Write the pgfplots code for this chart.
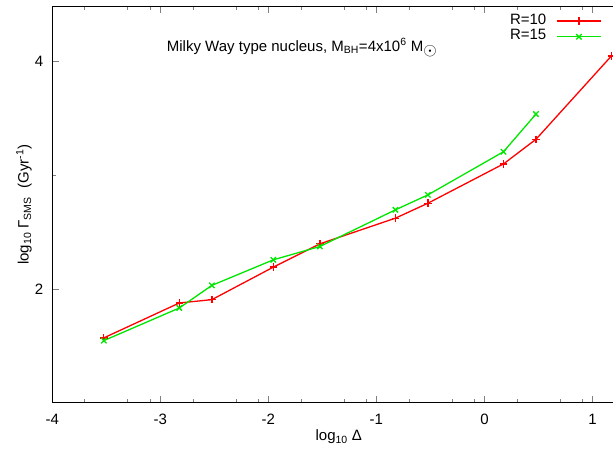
\documentclass[border=0pt]{standalone}
\usepackage{fontspec}
\setmainfont{Liberation Sans}
\usepackage{pgfplots}
\pgfplotsset{compat=1.18}
\definecolor{gpred}{RGB}{255,0,0}
\definecolor{gpgreen}{RGB}{0,230,0}

\begin{document}
\fontsize{15}{18}\selectfont
\begin{tikzpicture}
\begin{axis}[
    scale only axis,
    width=560.7pt, height=396pt,
    xmin=-4, xmax=1.19,
    ymin=1.01, ymax=4.48,
    axis x line=box, axis y line=left,
    axis line style={-, line width=0.9pt},
    tick align=inside,
    tick style={line width=0.7pt},
    major tick length=6.7pt, minor tick length=3.5pt,
    xtick={-4,-3,-2,-1,0,1},
    xticklabels={-4,-3,-2,-1,0,1},
    minor xtick={-3.699,-3.301,-3.097,-2.699,-2.301,-2.097,-1.699,-1.301,-1.097,-0.699,-0.301,-0.097,0.301,0.699,0.903},
    ytick={2,4}, yticklabels={2,4},
    minor ytick={3},
    xticklabel pos=lower,
    xticklabel style={yshift=-6pt},
    yticklabel style={xshift=-4pt},
    xlabel={log\textsubscript{10} Δ},
    xlabel style={at={(rel axis cs:0.511,-0.0866)}, anchor=center},
    ylabel={log\textsubscript{10} Γ\textsubscript{SMS}\ \ (Gyr\textsuperscript{-1})},
    ylabel style={at={(rel axis cs:-0.0505,0.5)}, anchor=center, rotate=0},
    legend style={at={(rel axis cs:0.98,0.984)}, anchor=north east, draw=none, fill=none,
        legend cell align=right, inner sep=0pt, row sep=0pt, column sep=10pt,
        nodes={inner sep=0pt, text height=11pt, text depth=4.7pt}},
    legend plot pos=right,
    legend image code/.code={
        \draw[#1, mark=none] (0pt,0pt) -- (44pt,0pt);
        \path[#1] plot coordinates {(22pt,0pt)};},
]
\coordinate (bl) at (rel axis cs:0,0);
\coordinate (tr) at (rel axis cs:1,1);

\addplot[color=gpred, line width=1.3pt, mark=+, mark size=3.8pt, mark options={solid, color=gpred, line width=1.3pt}] coordinates {
    (-3.523, 1.578) (-2.824, 1.884) (-2.523, 1.913) (-1.954, 2.198) (-1.523, 2.402)
    (-0.824, 2.627) (-0.523, 2.758) (0.176, 3.102) (0.477, 3.318) (1.176, 4.049)
};
\addlegendentry{R=10}

\addplot[color=gpgreen, line width=1.3pt, mark=x, mark size=3.8pt, mark options={solid, color=gpgreen, line width=1.3pt}] coordinates {
    (-3.523, 1.554) (-2.824, 1.840) (-2.523, 2.038) (-1.954, 2.262) (-1.523, 2.379)
    (-0.824, 2.700) (-0.523, 2.831) (0.176, 3.209) (0.477, 3.539)
};
\addlegendentry{R=15}

\node[anchor=base] at (rel axis cs:0.445,0.888) {Milky Way type nucleus, M\textsubscript{BH}=4x10\textsuperscript{6} M\raisebox{-4pt}{\fontsize{16}{16}\selectfont$\odot$}};
\end{axis}
\pgfresetboundingbox
\path ([shift={(-52.3pt,-49.3pt)}]bl) rectangle ([shift={(0pt,6.7pt)}]tr);
\end{tikzpicture}
\end{document}
